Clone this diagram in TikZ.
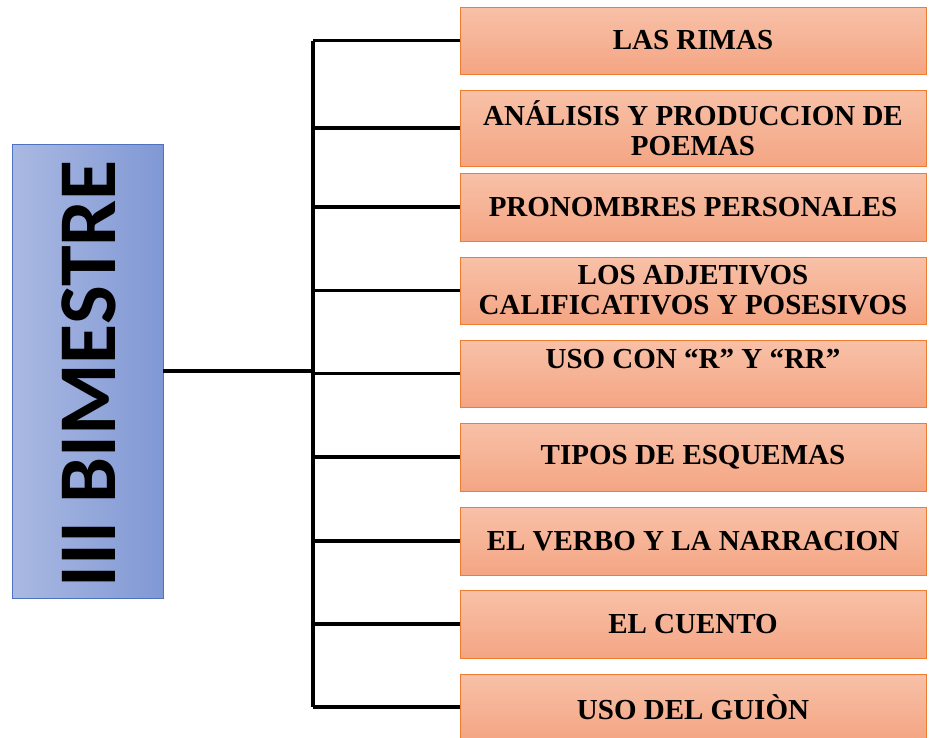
\documentclass[tikz,border=0pt]{standalone}
\usepackage{fontspec}
\setmainfont{Liberation Serif}
\newfontfamily\titlefont{Carlito}
\usepackage{tikz}
\usetikzlibrary{positioning,calc}
\definecolor{boxtop}{RGB}{248,193,168}
\definecolor{boxbot}{RGB}{244,165,131}
\definecolor{boxline}{RGB}{237,125,49}
\definecolor{mainleft}{RGB}{170,185,226}
\definecolor{mainright}{RGB}{128,152,212}
\definecolor{mainline}{RGB}{79,114,190}
\tikzstyle{topic}=[draw=boxline, line width=0.8pt, top color=boxtop, bottom color=boxbot,
  minimum width=466pt, inner sep=0pt, align=center,
  font=\fontsize{29}{30}\selectfont\bfseries]
\tikzstyle{link}=[line width=3.5pt]

\begin{document}
\begin{tikzpicture}[x=1pt,y=-1pt]
	  \useasboundingbox (0,0) rectangle (931,737);
	  % main box
	  \node[draw=mainline, line width=0.8pt, left color=mainleft, right color=mainright,
	    minimum width=151pt, minimum height=454pt, inner sep=0pt] (main) at (87.5,371) {};
	  \node[rotate=90, font=\titlefont\fontsize{82}{82}\selectfont\bfseries] (title) at (89,374) {III BIMESTRE};
	  % topics
	  \node[topic, minimum height=67pt] (rimas) at (693,40.5) {LAS RIMAS};
	  \node[topic, minimum height=76pt] (poemas) at (693,128) {ANÁLISIS Y PRODUCCION DE\\POEMAS};
	  \node[topic, minimum height=68pt] (pronombres) at (693,207) {PRONOMBRES PERSONALES};
	  \node[topic, minimum height=67pt] (adjetivos) at (693,290.5) {LOS ADJETIVOS\\CALIFICATIVOS Y POSESIVOS};
	  \node[topic, minimum height=67pt] (erre) at (693,373.5) {USO CON “R” Y “RR”\\\mbox{}};
	  \node[topic, minimum height=68pt] (esquemas) at (693,457) {TIPOS DE ESQUEMAS};
	  \node[topic, minimum height=68pt] (verbo) at (693,541) {EL VERBO Y LA NARRACION};
	  \node[topic, minimum height=68pt] (cuento) at (693,624) {EL CUENTO};
	  \node[topic, minimum height=66pt] (guion) at (693,707) {USO DEL GUIÒN};
	  % connectors
	  \coordinate (spine) at (313,372);
	  \draw[link] (main.east) -- (main.east -| spine);
	  \draw[link] (rimas.west -| spine) -- (guion.west -| spine);
	  \foreach \t in {rimas,poemas,pronombres,adjetivos,erre,esquemas,verbo,cuento,guion}
	    \draw[link] (\t.west -| spine) -- (\t.west);
	\end{tikzpicture}
\end{document}
